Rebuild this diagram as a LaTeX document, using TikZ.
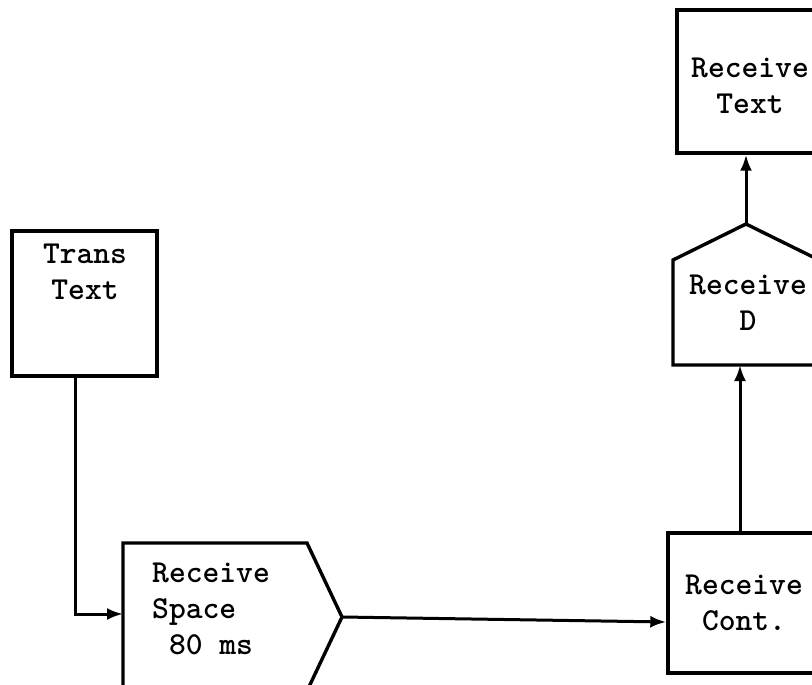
\documentclass[tikz,border=0pt]{standalone}
\usetikzlibrary{arrows.meta}
\begin{document}
\begin{tikzpicture}[x=1pt,y=-1pt,
  shapeline/.style={line width=3.4pt, line join=miter},
  boxnode/.style={draw, shapeline, rectangle, inner sep=0pt},
  lbl/.style={font=\fontsize{32}{36}\selectfont\ttfamily\bfseries, inner sep=0pt},
  conn/.style={line width=3pt, -{Latex[length=16pt,width=12pt]}}]
\useasboundingbox (0,0) rectangle (812,685);
\fill[white] (0,0) rectangle (812,685);
\clip (0,0) rectangle (812,685);

% Trans Text
\node[boxnode, minimum width=145pt, minimum height=145pt] (trans) at (84.5,303.5) {};
\node[lbl, align=center] (transl) at (85,272) {Trans\\Text};

% Receive Space (pentagon pointing right)
\draw[shapeline] (123,543) -- (307,543) -- (342,617) -- (307,691) -- (123,691) -- cycle;
\coordinate (spaceW) at (123,614);
\coordinate (spaceE) at (342,617);
\node[lbl, align=left, anchor=north west] (spacel) at (152,563) {Receive\\Space\\\ 80 ms};

% Receive Cont.
\node[boxnode, minimum width=160pt, minimum height=140pt] (cont) at (748,603) {};
\node[lbl, align=center] (contl) at (744,603) {Receive\\Cont.};

% Receive D (house shape)
\draw[shapeline] (673,365) -- (673,260) -- (746,224) -- (819,260) -- (819,365) -- cycle;
\coordinate (dS) at (740,365);
\coordinate (dN) at (746,224);
\node[lbl, align=center] (dl) at (748,303) {Receive\\D};

% Receive Text
\node[boxnode, minimum width=160pt, minimum height=143pt] (rtext) at (757,81.5) {};
\node[lbl, align=center] (rtextl) at (750,86) {Receive\\Text};

% connectors
\draw[conn] (trans.south -| 75,0) |- (spaceW);
\draw[conn] (spaceE) -- (cont.west |- 0,622);
\draw[conn] (cont.north -| dS) -- (dS);
\draw[conn] (dN) -- (dN |- rtext.south);
\end{tikzpicture}
\end{document}
